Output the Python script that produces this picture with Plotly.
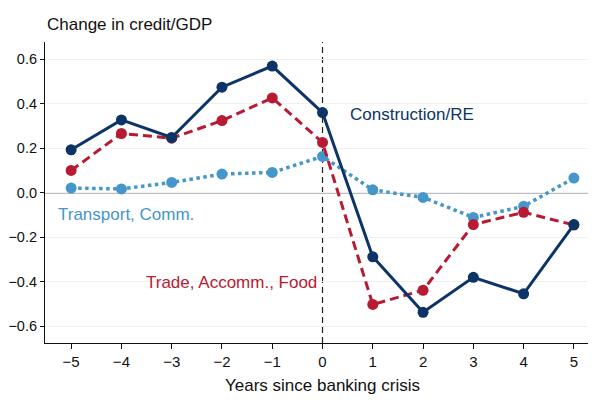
import plotly.graph_objects as go

# Data
years = [-5, -4, -3, -2, -1, 0, 1, 2, 3, 4, 5]
construction = [0.193, 0.327, 0.248, 0.474, 0.569, 0.36, -0.288, -0.537, -0.38, -0.454, -0.143]
trade = [0.10, 0.266, 0.245, 0.324, 0.426, 0.226, -0.502, -0.438, -0.143, -0.088, -0.145]
transport = [0.021, 0.017, 0.046, 0.084, 0.091, 0.163, 0.013, -0.021, -0.111, -0.061, 0.066]

y_ticks = [-0.6, -0.4, -0.2, 0.0, 0.2, 0.4, 0.6]
y_ticklabels = ["\u22120.6", "\u22120.4", "\u22120.2", "0.0", "0.2", "0.4", "0.6"]
x_ticklabels = ["\u22125", "\u22124", "\u22123", "\u22122", "\u22121", "0", "1", "2", "3", "4", "5"]

navy = "#0c3466"
red = "#b71b33"
blue = "#4596cb"
font = "Liberation Sans, Arial, sans-serif"

fig = go.Figure()

# reference lines
fig.add_hline(y=0, line=dict(color="#7f7f7f", width=1.6), layer="below")
fig.add_vline(x=0, line=dict(color="#222222", width=1.2, dash="6px,4px"), layer="below")

fig.add_trace(go.Scatter(
    x=years, y=transport, mode="lines+markers", name="Transport, Comm.",
    line=dict(color=blue, width=3.5, dash="dot"),
    marker=dict(color=blue, size=11)
))
fig.add_trace(go.Scatter(
    x=years, y=trade, mode="lines+markers", name="Trade, Accomm., Food",
    line=dict(color=red, width=3, dash="9px,5px"),
    marker=dict(color=red, size=11)
))
fig.add_trace(go.Scatter(
    x=years, y=construction, mode="lines+markers", name="Construction/RE",
    line=dict(color=navy, width=3),
    marker=dict(color=navy, size=11)
))

# series labels
fig.add_annotation(x=0.5, y=0.35, text="Construction/RE", showarrow=False,
                   xanchor="left", yanchor="middle", font=dict(color=navy, size=17, family=font))
fig.add_annotation(x=-5.3, y=-0.10, text="Transport, Comm.", showarrow=False,
                   xanchor="left", yanchor="middle", font=dict(color=blue, size=17, family=font))
fig.add_annotation(x=-0.07, y=-0.405, text="Trade, Accomm., Food", showarrow=False,
                   xanchor="right", yanchor="middle", font=dict(color=red, size=17, family=font))

# y axis title at top, x axis title at bottom
fig.add_annotation(xref="paper", yref="paper", x=0.0, y=1.0, yshift=6,
                   text="Change in credit/GDP", showarrow=False,
                   xanchor="left", yanchor="bottom", font=dict(color="#111111", size=17, family=font))
fig.add_annotation(xref="x", yref="paper", x=0, y=0, yshift=-31,
                   text="Years since banking crisis", showarrow=False,
                   xanchor="center", yanchor="top", font=dict(color="#111111", size=17, family=font))

# page body has an 8px margin, so the figure is a bit smaller than the window
fig.update_layout(
    width=588, height=392,
    margin=dict(l=37, r=0, t=34, b=57),
    plot_bgcolor="white", paper_bgcolor="white",
    showlegend=False,
    font=dict(family=font, size=15, color="#111111"),
    xaxis=dict(
        range=[-5.52, 5.44], tickvals=years, ticktext=x_ticklabels,
        showgrid=False, zeroline=False, automargin=False,
        showline=True, linecolor="#111111", linewidth=1.2,
        ticks="outside", ticklen=5, tickcolor="#111111",
    ),
    yaxis=dict(
        range=[-0.675, 0.677], tickvals=y_ticks, ticktext=y_ticklabels,
        tickfont=dict(size=14.5),
        showgrid=True, gridcolor="#f0f0f0", gridwidth=1, zeroline=False, automargin=False,
        showline=True, linecolor="#111111", linewidth=1.2,
        ticks="outside", ticklen=4, tickcolor="#111111",
    ),
)

fig.write_html("out.html")
